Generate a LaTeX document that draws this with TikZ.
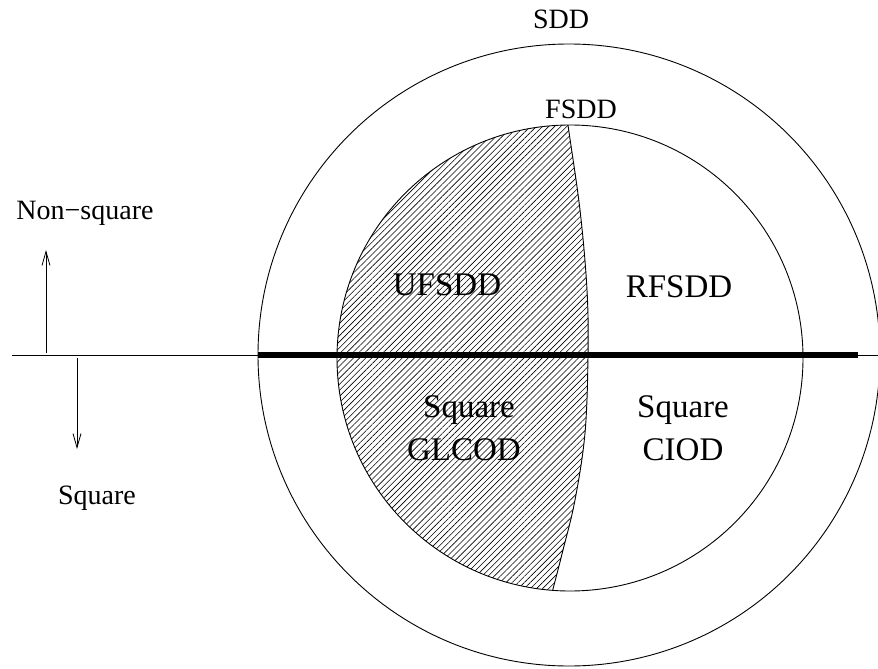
\documentclass[tikz,border=0pt]{standalone}
\usepackage{fontspec}
\setmainfont{Liberation Serif}
\usetikzlibrary{arrows.meta,patterns.meta}
\tikzset{
  lbl/.style={anchor=base,inner sep=0pt,font=\fontsize{28}{34}\selectfont},
  biglbl/.style={anchor=base,inner sep=0pt,font=\fontsize{33}{40}\selectfont},
  thin line/.style={line width=0.9pt},
  hatch/.style={pattern={Lines[angle=45,distance=4.3pt,line width=0.6pt]}},
  dirarrow/.style={line width=0.8pt,-{Straight Barb[length=14pt,width=8pt]}}
}
\begin{document}
\begin{tikzpicture}[x=1pt,y=-1pt]
\useasboundingbox (0,0) rectangle (878,669);
% centres
\coordinate (oc) at (569,355);
\coordinate (ic) at (570,358);
% hatched region (left part of FSDD)
\begin{scope}
  \clip (ic) circle[radius=233pt];
  \fill[hatch] plot[smooth,tension=0.6] coordinates {(567,112) (568,125) (580,210) (587,290) (588,355) (585,433) (575,500) (563,550) (553,589) (550,600)}
     -- (300,600) -- (300,112) -- cycle;
  \draw[thin line] plot[smooth,tension=0.6] coordinates {(567,112) (568,125) (580,210) (587,290) (588,355) (585,433) (575,500) (563,550) (553,589) (550,600)};
\end{scope}
% circles
\draw[thin line] (oc) circle[radius=311pt];
\draw[thin line] (ic) circle[radius=233pt];
% dividing line
\coordinate (l0) at (12,355);
\coordinate (l1) at (258,355);
\coordinate (l2) at (858,355);
\coordinate (l3) at (878,355);
\draw[thin line] (l0) -- (l3);
\draw[line width=6pt] (l1) -- (l2);
% direction arrows
\coordinate (u0) at (46,353);
\coordinate (u1) at (46,250);
\coordinate (d0) at (77,358);
\coordinate (d1) at (77,449);
\draw[dirarrow] (u0) -- (u1);
\draw[dirarrow] (d0) -- (d1);
% labels
\node[lbl] (sdd) at (561,29) {SDD};
\node[lbl] (fsdd) at (581,118) {FSDD};
\node[lbl] (nonsq) at (85,219) {Non−square};
\node[lbl] (sq) at (97,504) {Square};
\node[biglbl] (ufsdd) at (447,295) {UFSDD};
\node[biglbl] (rfsdd) at (679,297) {RFSDD};
\node[biglbl] (sqg) at (469,417) {Square};
\node[biglbl] (glcod) at (464,460) {GLCOD};
\node[biglbl] (sqc) at (683,417) {Square};
\node[biglbl] (ciod) at (683,460) {CIOD};
\end{tikzpicture}
\end{document}
